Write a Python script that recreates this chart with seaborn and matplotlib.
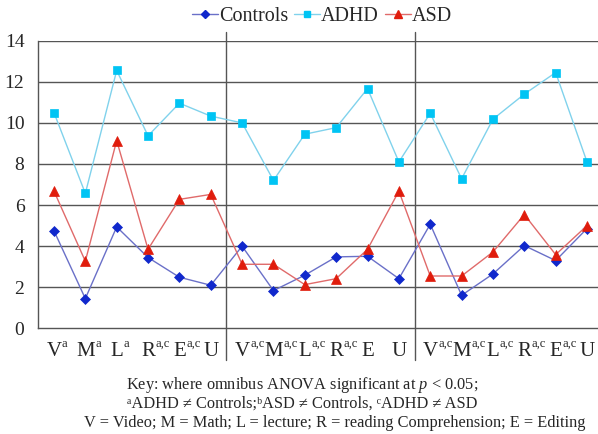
import numpy as np
import pandas as pd
import matplotlib
matplotlib.use("Agg")
import matplotlib.pyplot as plt
from matplotlib.lines import Line2D
import seaborn as sns

categories = ["V", "M", "L", "R", "E", "U",
              "V", "M", "L", "R", "E", "U",
              "V", "M", "L", "R", "E", "U"]
superscripts = ["a", "a", "a", "a,c", "a,c", "",
                "a,c", "a,c", "a,c", "a,c", "", "",
                "a,c", "a,c", "a,c", "a,c", "a,c", ""]
controls = [4.75, 1.45, 4.94, 3.45, 2.49, 2.10, 4.00, 1.84, 2.59, 3.48, 3.51, 2.42,
            5.07, 1.61, 2.65, 4.03, 3.30, 4.86]
adhd = [10.50, 6.57, 12.55, 9.37, 10.96, 10.33, 10.00, 7.20, 9.45, 9.77, 11.67, 8.10,
        10.47, 7.28, 10.18, 11.40, 12.45, 8.10]
asd = [6.68, 3.27, 9.14, 3.85, 6.28, 6.52, 3.12, 3.12, 2.13, 2.42, 3.85, 6.68,
       2.55, 2.55, 3.72, 5.54, 3.59, 5.00]
series_names = ["Controls", "ADHD", "ASD"]
yticks = [0, 2, 4, 6, 8, 10, 12, 14]

sns.set_style("white")
plt.rcParams["font.family"] = ["Liberation Serif", "DejaVu Serif"]
plt.rcParams["mathtext.fontset"] = "custom"
plt.rcParams["mathtext.rm"] = "Liberation Serif"
plt.rcParams["mathtext.it"] = "Liberation Serif:italic"

fig = plt.figure(figsize=(5.98, 4.34), dpi=100)
W, H = 598, 434
left, right, top, bottom = 38.3, 602.7, 40.7, 328.4
ax = fig.add_axes([left / W, 1 - bottom / H, (right - left) / W, (bottom - top) / H])

x = np.arange(len(categories))
styles = {
    "Controls": dict(line="#6a70c8", mk="#1028cc", marker="D", ms=5.3),
    "ADHD": dict(line="#80d2ec", mk="#00c4f4", marker="s", ms=5.3),
    "ASD": dict(line="#e06a6a", mk="#e01c0c", marker="^", ms=7.0),
}
data = {"Controls": controls, "ADHD": adhd, "ASD": asd}

for name in series_names:
    st = styles[name]
    df = pd.DataFrame({"x": x, "y": data[name]})
    sns.lineplot(data=df, x="x", y="y", ax=ax, color=st["line"], linewidth=1.0,
                 marker=st["marker"], markersize=st["ms"], markerfacecolor=st["mk"],
                 markeredgecolor=st["mk"], markeredgewidth=0.5, zorder=3)

ax.set_xlim(-0.5, len(categories) - 0.5)
ax.set_ylim(0, 14)
ax.set_yticks(yticks)
ax.set_yticklabels([str(v) for v in yticks], fontsize=14)
ax.set_xticks(x)
ax.set_xticklabels(categories, fontsize=15)
ax.set_xticks(np.arange(-0.5, len(categories), 1.0), minor=True)
ax.tick_params(axis="x", which="major", length=0, pad=9.5)
ax.tick_params(axis="x", which="minor", length=5, color="#555555", width=1)
ax.tick_params(axis="y", which="major", length=7, color="#555555", width=1, pad=3)
ax.set_xlabel("")
ax.set_ylabel("")

for lbl, sup in zip(ax.get_xticklabels(), superscripts):
    if sup:
        ax.annotate(sup, xy=(1, 1), xycoords=lbl, xytext=(0.3, 2.6),
                    textcoords="offset points", ha="left", va="top", fontsize=9)

for v in yticks[1:]:
    ax.axhline(v, color="#555555", linewidth=1.0, zorder=1)
for s in ["top", "right"]:
    ax.spines[s].set_visible(False)
for s in ["left", "bottom"]:
    ax.spines[s].set_color("#555555")
    ax.spines[s].set_linewidth(1.0)

for xv in [5.5, 11.5]:
    ax.axvline(xv, ymin=(bottom - 360) / (bottom - top), ymax=(bottom - 32) / (bottom - top),
               color="#555555", linewidth=1.0, clip_on=False, zorder=2)

handles = [Line2D([0], [0], color=styles[n]["line"], marker=styles[n]["marker"],
                  markersize=styles[n]["ms"] * 0.8, markerfacecolor=styles[n]["mk"],
                  markeredgecolor=styles[n]["mk"], linewidth=1.0) for n in series_names]
fig.legend(handles, series_names, loc="center", bbox_to_anchor=(322 / W, 1 - 16 / H),
           ncol=3, frameon=False, fontsize=14.5, handlelength=1.3, handletextpad=0.05,
           columnspacing=0.3, borderaxespad=0)

fig.text(302 / W, 1 - 385 / H, "Key: where omnibus ANOVA significant at $p$ < 0.05;",
         ha="center", va="center", fontsize=11.8)
fig.text(302 / W, 1 - 404 / H,
         "\u1d43ADHD \u2260 Controls;\u1d47ASD \u2260 Controls, \u1d9cADHD \u2260 ASD",
         ha="center", va="center", fontsize=11.8)
fig.text(335 / W, 1 - 423 / H,
         "V = Video; M = Math; L = lecture; R = reading Comprehension; E = Editing",
         ha="center", va="center", fontsize=11.8)

fig.savefig("out.png", dpi=100)
